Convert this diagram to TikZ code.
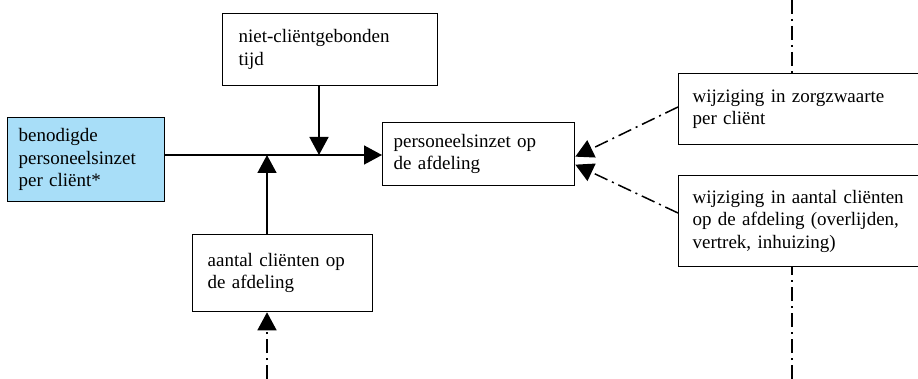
\documentclass[tikz,border=0pt]{standalone}
\usepackage{fontspec}
\setmainfont{Liberation Serif}
\usetikzlibrary{arrows.meta}
\definecolor{lightblue}{RGB}{168,222,248}
\begin{document}
\begin{tikzpicture}[x=1pt,y=-1pt,
  box/.style={draw=black,line width=1.3pt,anchor=north west,align=left,
    font=\fontsize{19}{22.5}\selectfont,inner ysep=2pt},
  solidarrow/.style={line width=1.5pt,-{Triangle[length=18pt,width=19pt]}},
  dasharrow/.style={line width=1.5pt,dash pattern=on 14pt off 5pt on 2pt off 5pt,-{Triangle[length=18pt,width=19pt]}},
  dashline/.style={line width=1.5pt,dash pattern=on 14pt off 5pt on 2pt off 5pt}]
\useasboundingbox (0,0) rectangle (918,379);
\clip (0,0) rectangle (918,379);
\node[box,fill=lightblue,minimum width=157pt,minimum height=84pt,text width=135pt,inner xsep=11pt] (blue) at (7,117)
  {benodigde\\personeelsinzet\\per cliënt*};
\node[box,minimum width=215pt,minimum height=72pt,text width=183pt,inner xsep=16pt] (top) at (222,13)
  {niet-cliëntgebonden\\tijd};
\node[box,minimum width=192pt,minimum height=63pt,text width=170pt,inner xsep=11pt] (center) at (382,122)
  {personeelsinzet op\\de afdeling};
\node[box,minimum width=180pt,minimum height=77pt,text width=150pt,inner xsep=15pt] (bottom) at (192,234)
  {aantal cliënten op\\de afdeling};
\node[box,minimum width=260pt,minimum height=71pt,text width=232pt,inner xsep=14pt] (rt) at (678,73)
  {wijziging in zorgzwaarte\\per cliënt};
\node[box,minimum width=260pt,minimum height=91pt,text width=232pt,inner xsep=14pt] (rb) at (678,175)
  {wijziging in aantal cliënten\\op de afdeling (overlijden,\\vertrek, inhuizing)};
\coordinate (j1) at (319,155);
\coordinate (j2) at (267,155);
\coordinate (b0) at (267,379);
\coordinate (rtin) at (678,107);
\coordinate (rbin) at (678,213);
\coordinate (vtop) at (792,0);
\coordinate (vbot) at (792,379);
\draw[solidarrow] (blue.east |- j1) -- (center.west |- j1);
\draw[solidarrow] (top.south -| j1) -- (j1);
\draw[solidarrow] (bottom.north -| j2) -- (j2);
\draw[dasharrow] (b0) -- (bottom.south -| b0);
\draw[dasharrow] (rtin) -- ([yshift=-2.5pt]center.east);
\draw[dasharrow] (rbin) -- ([yshift=-10.5pt]center.east);
\draw[dashline] (vtop) -- (rt.north -| vtop);
\draw[dashline] (vbot) -- (rb.south -| vbot);
\end{tikzpicture}
\end{document}
